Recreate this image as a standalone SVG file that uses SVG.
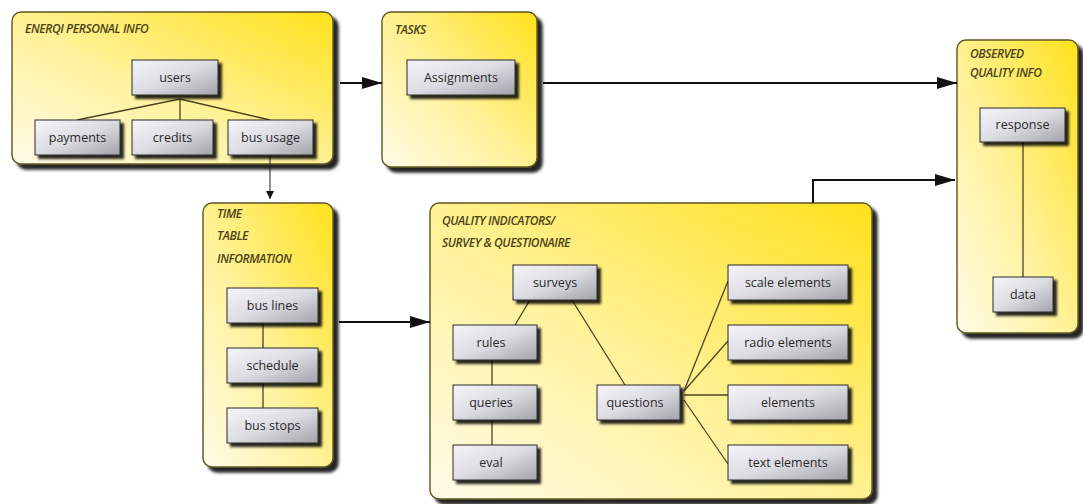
<svg xmlns="http://www.w3.org/2000/svg" width="1083" height="504" viewBox="0 0 1083 504">
<style>
.cont{fill:url(#contGrad);stroke:#5e5520;stroke-width:1.4}
.box{fill:url(#boxGrad);stroke:#2a2a2a;stroke-width:1}
.title{font-family:"Open Sans","Liberation Sans",sans-serif;font-style:italic;font-weight:600;font-size:12px;fill:#4a4316;letter-spacing:-0.4px}
.lbl{font-family:"Open Sans","Liberation Sans",sans-serif;font-size:12.5px;fill:#2a2a2a;text-anchor:middle}
.inner{stroke:#4a4420;stroke-width:1.3;fill:none}
.arrow{stroke:#111;stroke-width:2;fill:none}
.thin{stroke:#222;stroke-width:1;fill:none}
</style>
<defs>
<linearGradient id="contGrad" x1="0" y1="1" x2="1" y2="0">
<stop offset="0" stop-color="#fffbe8"/>
<stop offset="0.45" stop-color="#fff29c"/>
<stop offset="1" stop-color="#ffe11a"/>
</linearGradient>
<linearGradient id="boxGrad" x1="0" y1="0" x2="1" y2="1">
<stop offset="0" stop-color="#f4f4f8"/>
<stop offset="0.5" stop-color="#dcdce3"/>
<stop offset="1" stop-color="#a2a2aa"/>
</linearGradient>
<filter id="cShadow" x="-10%" y="-10%" width="125%" height="125%">
<feDropShadow dx="5" dy="5" stdDeviation="1.8" flood-color="#000" flood-opacity="0.85"/>
</filter>
<filter id="bShadow" x="-10%" y="-10%" width="130%" height="140%">
<feDropShadow dx="3.5" dy="3.5" stdDeviation="1.2" flood-color="#000" flood-opacity="0.85"/>
</filter>
<marker id="ah" markerUnits="userSpaceOnUse" markerWidth="20" markerHeight="12" refX="20" refY="6" orient="auto">
<path d="M0,0 L20,6 L0,12 Z" fill="#111"/>
</marker>
<marker id="ahs" markerUnits="userSpaceOnUse" markerWidth="8" markerHeight="8" refX="8" refY="4" orient="auto">
<path d="M0,0 L8,4 L0,8 Z" fill="#111"/>
</marker>
</defs>
<rect width="1083" height="504" fill="#fff"/>

<g id="enerqi-personal-info">
<rect class="cont" x="12" y="12" width="321" height="152" rx="9" filter="url(#cShadow)"/>
<text class="title" x="25" y="33">ENERQI PERSONAL INFO</text>
</g>
<g id="tasks">
<rect class="cont" x="382" y="12" width="155" height="155" rx="9" filter="url(#cShadow)"/>
<text class="title" x="395" y="34">TASKS</text>
</g>
<g id="observed-quality-info">
<rect class="cont" x="957" y="40" width="121" height="293" rx="9" filter="url(#cShadow)"/>
<text class="title" x="970" y="58">OBSERVED</text>
<text class="title" x="970" y="77">QUALITY INFO</text>
</g>
<g id="time-table-information">
<rect class="cont" x="203" y="203" width="130" height="264" rx="9" filter="url(#cShadow)"/>
<text class="title" x="217" y="218">TIME</text>
<text class="title" x="217" y="240">TABLE</text>
<text class="title" x="217" y="263">INFORMATION</text>
</g>
<g id="quality-indicators">
<rect class="cont" x="430" y="203" width="442" height="296" rx="9" filter="url(#cShadow)"/>
<text class="title" x="442" y="225">QUALITY INDICATORS/</text>
<text class="title" x="442" y="247">SURVEY &amp; QUESTIONAIRE</text>
</g>

<g id="connectors">
<line class="arrow" x1="340" y1="83" x2="382" y2="83" marker-end="url(#ah)"/>
<line class="arrow" x1="543" y1="83" x2="957" y2="83" marker-end="url(#ah)"/>
<line class="thin" x1="270" y1="155" x2="270" y2="199" marker-end="url(#ahs)"/>
<line class="arrow" x1="339" y1="322" x2="430" y2="322" marker-end="url(#ah)"/>
<polyline class="arrow" points="813,203 813,180 955,180" marker-end="url(#ah)"/>
<line class="inner" x1="180" y1="99" x2="77" y2="120"/>
<line class="inner" x1="180" y1="99" x2="180" y2="120"/>
<line class="inner" x1="180" y1="99" x2="270" y2="120"/>
<line class="inner" x1="1023" y1="142" x2="1023" y2="277"/>
<line class="inner" x1="263" y1="323" x2="263" y2="348"/>
<line class="inner" x1="263" y1="383" x2="263" y2="408"/>
<line class="inner" x1="530" y1="300" x2="515" y2="325"/>
<line class="inner" x1="572" y1="300" x2="625" y2="385"/>
<line class="inner" x1="492" y1="360" x2="492" y2="385"/>
<line class="inner" x1="492" y1="420" x2="492" y2="445"/>
<line class="inner" x1="684" y1="391" x2="728" y2="281"/>
<line class="inner" x1="684" y1="391" x2="728" y2="341"/>
<line class="inner" x1="684" y1="395" x2="728" y2="395"/>
<line class="inner" x1="684" y1="400" x2="728" y2="464"/>
</g>

<g id="users"><rect class="box" x="132" y="60" width="86" height="35" filter="url(#bShadow)"/><text class="lbl" x="175" y="82">users</text></g>
<g id="payments"><rect class="box" x="35" y="120" width="85" height="35" filter="url(#bShadow)"/><text class="lbl" x="77.5" y="142">payments</text></g>
<g id="credits"><rect class="box" x="132" y="120" width="81" height="35" filter="url(#bShadow)"/><text class="lbl" x="172.5" y="142">credits</text></g>
<g id="bus-usage"><rect class="box" x="228" y="120" width="85" height="35" filter="url(#bShadow)"/><text class="lbl" x="270.5" y="142">bus usage</text></g>
<g id="assignments"><rect class="box" x="407" y="60" width="108" height="35" filter="url(#bShadow)"/><text class="lbl" x="461" y="82">Assignments</text></g>
<g id="response"><rect class="box" x="980" y="108" width="85" height="34" filter="url(#bShadow)"/><text class="lbl" x="1022.5" y="129">response</text></g>
<g id="data"><rect class="box" x="993" y="277" width="60" height="35" filter="url(#bShadow)"/><text class="lbl" x="1023" y="299">data</text></g>
<g id="bus-lines"><rect class="box" x="227" y="288" width="91" height="35" filter="url(#bShadow)"/><text class="lbl" x="272.5" y="310">bus lines</text></g>
<g id="schedule"><rect class="box" x="227" y="348" width="91" height="35" filter="url(#bShadow)"/><text class="lbl" x="272.5" y="370">schedule</text></g>
<g id="bus-stops"><rect class="box" x="227" y="408" width="91" height="35" filter="url(#bShadow)"/><text class="lbl" x="272.5" y="430">bus stops</text></g>
<g id="surveys"><rect class="box" x="513" y="265" width="84" height="35" filter="url(#bShadow)"/><text class="lbl" x="555" y="287">surveys</text></g>
<g id="rules"><rect class="box" x="453" y="325" width="84" height="35" filter="url(#bShadow)"/><text class="lbl" x="491" y="347">rules</text></g>
<g id="queries"><rect class="box" x="453" y="385" width="84" height="35" filter="url(#bShadow)"/><text class="lbl" x="491" y="407">queries</text></g>
<g id="eval"><rect class="box" x="453" y="445" width="84" height="35" filter="url(#bShadow)"/><text class="lbl" x="491" y="467">eval</text></g>
<g id="questions"><rect class="box" x="597" y="385" width="83" height="35" filter="url(#bShadow)"/><text class="lbl" x="635" y="407">questions</text></g>
<g id="scale-elements"><rect class="box" x="728" y="265" width="120" height="35" filter="url(#bShadow)"/><text class="lbl" x="788" y="287">scale elements</text></g>
<g id="radio-elements"><rect class="box" x="728" y="325" width="120" height="35" filter="url(#bShadow)"/><text class="lbl" x="788" y="347">radio elements</text></g>
<g id="elements"><rect class="box" x="728" y="385" width="120" height="35" filter="url(#bShadow)"/><text class="lbl" x="788" y="407">elements</text></g>
<g id="text-elements"><rect class="box" x="728" y="445" width="120" height="35" filter="url(#bShadow)"/><text class="lbl" x="788" y="467">text elements</text></g>
</svg>
